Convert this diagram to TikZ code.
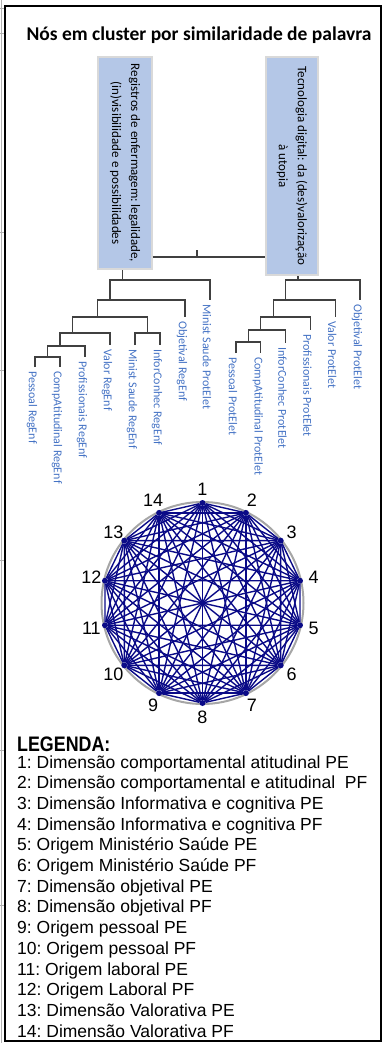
\documentclass[tikz,border=0pt]{standalone}
\usepackage{fontspec}
\setmainfont{Carlito}
\newfontfamily\arialfont{Liberation Sans}
\frenchspacing
\definecolor{boxblue}{RGB}{180,199,231}
\definecolor{lblue}{RGB}{68,114,196}
\definecolor{treegray}{RGB}{64,64,64}
\definecolor{navyedge}{RGB}{10,10,135}
\tikzset{
  clusterbox/.style={rotate=-90, fill=boxblue, draw=gray!30, line width=1.2pt, align=center, inner sep=0pt, font=\fontsize{13}{19}\selectfont},
  tree/.style={treegray, line width=1.3pt},
  leaf/.style={xshift=-3pt, yshift=-4pt, rotate=-90, anchor=west, inner sep=0pt, text=lblue, font=\fontsize{12}{14}\selectfont},
  vert/.style={circle, fill=navyedge, inner sep=0pt, minimum size=6pt},
  edge/.style={navyedge, line width=1.4pt},
  num/.style={inner sep=0pt, font=\arialfont\fontsize{18}{20}\selectfont},
  legtitle/.style={anchor=base west, inner sep=0pt, xscale=0.85, font=\arialfont\bfseries\fontsize{21}{24}\selectfont},
  legline/.style={anchor=base west, inner sep=0pt, font=\arialfont\fontsize{17.5}{21}\selectfont}
}
\begin{document}
\begin{tikzpicture}[x=1pt, y=-1pt]
  \useasboundingbox (0,0) rectangle (383,1043);

  % Frame
  \draw[gray!60, line width=0.8pt] (1.5,0) -- (1.5,1043);
  \foreach \y in {8,33,232,370,560,750,905}
    \draw[gray!60, line width=0.8pt] (0,\y) -- (5,\y);
  \draw[line width=2pt] (5,6) rectangle (381,1041);

  % Title
  \node[anchor=base, inner sep=0pt, font=\bfseries\fontsize{19.5}{23}\selectfont] (title) at (199,41) {Nós em cluster por similaridade de palavra};

  % Cluster boxes
  \node[clusterbox, minimum width=212pt, minimum height=54pt] (regbox) at (125,163) {Registros de enfermagem: legalidade,\\(in)visibilidade e possibilidades};
  \node[clusterbox, minimum width=218pt, minimum height=52pt] (tecbox) at (292,166) {Tecnologia digital: da (des)valorização\\à utopia};

  % Link between the clusters
  \coordinate (link) at (197,257);
  \draw[tree] (regbox.north |- link) -- (tecbox.south |- link);
  \draw[tree] (link) -- ++(0,-7);

  % Leaves RegEnf
  \foreach \x/\y/\t [count=\i] in {35/367/Pessoal RegEnf, 60/367/CompAtitudinal RegEnf, 85/357/Profissionais RegEnf, 110/345/Valor RegEnf, 135/345/Minist Saude RegEnf, 160/345/InforConhec RegEnf, 185/317/Objetival RegEnf, 210/300/Minist Saude ProtElet} {
    \coordinate (r\i) at (\x,\y);
    \node[leaf] (lr\i) at (r\i) {\t};
  }
  \coordinate (ra) at (47.5,357);
  \coordinate (rb) at (60,346);
  \coordinate (rc) at (72.5,333);
  \coordinate (rd) at (147.5,333);
  \coordinate (re) at (97.5,317);
  \coordinate (rf) at (110,300);
  \coordinate (rg) at (122.5,280);
  \draw[tree] (r1) |- (ra) -| (r2);
  \draw[tree] (ra) |- (rb) -| (r3);
  \draw[tree] (rb) |- (rc) -| (r4);
  \draw[tree] (r5) |- (rd) -| (r6);
  \draw[tree] (rc) |- (re) -| (rd);
  \draw[tree] (re) |- (rf) -| (r7);
  \draw[tree] (rf) |- (rg) -| (r8);
  \draw[tree] (rg) -- (rg |- regbox.east);

  % Leaves ProtElet
  \foreach \x/\y/\t [count=\i] in {236/353/Pessoal ProtElet, 260.8/353/CompAtitudinal ProtElet, 285.6/343/InforConhec ProtElet, 310.4/330/Profissionais ProtElet, 335.2/317/Valor ProtElet, 360/300/Objetival ProtElet} {
    \coordinate (p\i) at (\x,\y);
    \node[leaf] (lp\i) at (p\i) {\t};
  }
  \coordinate (pa) at (248.4,342);
  \coordinate (pb) at (260.8,330);
  \coordinate (pc) at (273.2,317);
  \coordinate (pd) at (285.6,300);
  \coordinate (pe) at (298,280);
  \draw[tree] (p1) |- (pa) -| (p2);
  \draw[tree] (pa) |- (pb) -| (p3);
  \draw[tree] (pb) |- (pc) -| (p4);
  \draw[tree] (pc) |- (pd) -| (p5);
  \draw[tree] (pd) |- (pe) -| (p6);
  \draw[tree] (pe) -- (pe |- tecbox.east);

  % Word similarity graph
  \begin{scope}[shift={(202.5,603)}]
    \draw[gray!70, line width=2pt] (0pt,0pt) circle (101pt);
    \foreach \i in {1,...,14} {
      \node[vert] (n\i) at ({90-(\i-1)*360/14}:100pt) {};
      \node[num] (m\i) at ({90-(\i-1)*360/14}:114pt) {\i};
    }
    \foreach \i in {1,...,13} {
      \pgfmathtruncatemacro\k{\i+1}
      \foreach \j in {\k,...,14}
        \draw[edge] (n\i) -- (n\j);
    }
  \end{scope}

  % Legend
  \node[legtitle] (legend) at (17,751) {LEGENDA:};
  \foreach \t [count=\i] in {1: Dimensão comportamental atitudinal PE, 2: Dimensão comportamental e atitudinal\ \ PF, 3: Dimensão Informativa e cognitiva PE, 4: Dimensão Informativa e cognitiva PF, 5: Origem Ministério Saúde PE, 6: Origem Ministério Saúde PF, 7: Dimensão objetival PE, 8: Dimensão objetival PF, 9: Origem pessoal PE, 10: Origem pessoal PF, 11: Origem laboral PE, 12: Origem Laboral PF, 13: Dimensão Valorativa PE, 14: Dimensão Valorativa PF}
    \node[legline] (leg\i) at (17,{747.3+20.7*\i}) {\t};
\end{tikzpicture}
\end{document}
